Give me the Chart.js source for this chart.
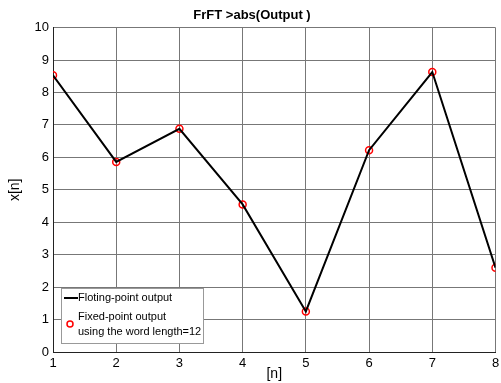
<!DOCTYPE html>
<html>
<head>
<meta charset="utf-8">
<script src="https://cdn.jsdelivr.net/npm/chart.js@4"></script>
<style>
  html, body { margin: 0; padding: 0; background: #fff; }
  #wrap { width: 501px; height: 383px; }
</style>
</head>
<body>
<div id="wrap"><canvas id="chart" width="501" height="383"></canvas></div>
<script>
const nValues = [1, 2, 3, 4, 5, 6, 7, 8];
const floatOut = [8.53, 5.86, 6.88, 4.55, 1.25, 6.22, 8.63, 2.6];
const fixedOut = [8.53, 5.86, 6.88, 4.55, 1.25, 6.22, 8.63, 2.6];
const lineLabel = "Floting-point output";
const fixedLabel = ["Fixed-point output", "using the word length=12"];

const FONT = "'Liberation Sans', Arial, sans-serif";

const legendBox = {
    id: "legendBox",
    afterDatasetsDraw(chart) {
        const ctx = chart.ctx;
        const x0 = chart.chartArea.left + 8, y0 = chart.chartArea.bottom - 64;
        const w = 142, h = 55;
        ctx.save();
        ctx.fillStyle = "#fff";
        ctx.fillRect(x0, y0, w, h);
        ctx.strokeStyle = "#999";
        ctx.lineWidth = 1;
        ctx.strokeRect(x0 + 0.5, y0 + 0.5, w, h);
        ctx.strokeStyle = "#000";
        ctx.lineWidth = 2;
        ctx.beginPath();
        ctx.moveTo(x0 + 3, y0 + 10);
        ctx.lineTo(x0 + 17, y0 + 10);
        ctx.stroke();
        ctx.strokeStyle = "#ff0000";
        ctx.lineWidth = 1.5;
        ctx.beginPath();
        ctx.arc(x0 + 9, y0 + 36, 3, 0, Math.PI * 2);
        ctx.stroke();
        ctx.fillStyle = "#000";
        ctx.font = "11px " + FONT;
        ctx.textBaseline = "middle";
        ctx.fillText(lineLabel, x0 + 17, y0 + 10);
        ctx.fillText(fixedLabel[0], x0 + 17, y0 + 29);
        ctx.fillText(fixedLabel[1], x0 + 17, y0 + 44);
        ctx.restore();
    }
};

new Chart(document.getElementById("chart"), {
    type: "line",
    data: {
        datasets: [
            {
                label: lineLabel,
                data: nValues.map((n, i) => ({x: n, y: floatOut[i]})),
                borderColor: "#000",
                borderWidth: 2,
                pointRadius: 0,
                tension: 0
            },
            {
                label: fixedLabel.join(" "),
                data: nValues.map((n, i) => ({x: n, y: fixedOut[i]})),
                showLine: false,
                borderColor: "#ff0000",
                backgroundColor: "rgba(0,0,0,0)",
                borderWidth: 1.5,
                pointRadius: 3.5
            }
        ]
    },
    options: {
        responsive: false,
        animation: false,
        layout: { padding: { top: 0, right: -3, left: 0, bottom: 0 } },
        plugins: {
            legend: { display: false },
            tooltip: { enabled: false },
            title: {
                display: true,
                text: "FrFT >abs(Output )",
                color: "#000",
                font: { family: FONT, size: 13, weight: "bold" },
                padding: { top: 8, bottom: 4 }
            }
        },
        scales: {
            x: {
                type: "linear",
                min: 1,
                max: 8,
                ticks: { stepSize: 1, color: "#000", font: { family: FONT, size: 13 }, padding: 4 },
                grid: { color: "#777", tickLength: 0 },
                border: { color: "#222", width: 1 },
                title: { display: true, text: "[n]", color: "#000", font: { family: FONT, size: 14 }, padding: 0 },
                afterFit(s) { s.height = 31; s.paddingRight = 0; s.paddingLeft = 0; }
            },
            y: {
                min: 0,
                max: 10,
                ticks: { stepSize: 1, color: "#000", font: { family: FONT, size: 13 }, padding: 4 },
                grid: { color: "#777", tickLength: 0 },
                border: { color: "#222", width: 1 },
                title: { display: true, text: "x[n]", color: "#000", font: { family: FONT, size: 14 }, padding: { top: 7, bottom: 0 } },
                afterFit(s) { s.width = 53; s.paddingTop = 0; s.paddingBottom = 0; }
            }
        }
    },
    plugins: [legendBox]
});
</script>
</body>
</html>
